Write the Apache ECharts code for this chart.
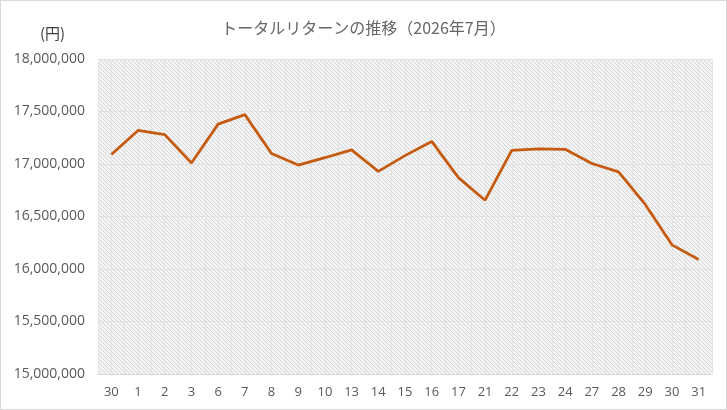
<!DOCTYPE html>
<html>
<head>
<meta charset="utf-8">
<script src="https://cdn.jsdelivr.net/npm/echarts@6/dist/echarts.min.js"></script>
<style>
  html, body { margin: 0; padding: 0; background: #fff; }
  #main { width: 725px; height: 408px; border: 1px solid #d9d9d9; }
</style>
</head>
<body>
<div id="main"></div>
<script>
// 日付（営業日）
var days = ['30', '1', '2', '3', '6', '7', '8', '9', '10', '13', '14', '15', '16', '17', '21', '22', '23', '24', '27', '28', '29', '30', '31'];
// トータルリターン（円）
var totalReturn = [17090000, 17320000, 17280000, 17010000, 17380000, 17470000, 17100000, 16990000, 17060000, 17135000, 16930000, 17080000, 17215000, 16870000, 16655000, 17130000, 17145000, 17140000, 17005000, 16925000, 16615000, 16230000, 16090000];
var yMin = 15000000, yMax = 18000000, yStep = 500000;

// 斜線の背景パターン
var pat = document.createElement('canvas');
pat.width = 4; pat.height = 4;
var ctx = pat.getContext('2d');
ctx.fillStyle = '#f4f4f4';
ctx.fillRect(0, 0, 4, 4);
ctx.fillStyle = '#d6d6d6';
for (var i = 0; i < 4; i++) ctx.fillRect(i, i, 1, 1);

var myChart = echarts.init(document.getElementById('main'));
var option = {
  animation: false,
  title: {
    text: 'トータルリターンの推移（2026年7月）',
    left: 'center',
    top: 14,
    textStyle: { color: '#666666', fontSize: 16, fontWeight: 'normal', fontFamily: 'Noto Sans CJK JP' }
  },
  graphic: [{
    type: 'text', left: 39, top: 25,
    style: { text: '(円)', fill: '#404040', font: '15px "Noto Sans CJK JP"' }
  }],
  grid: {
    left: 97, right: 14, top: 58, bottom: 35,
    show: true,
    borderWidth: 0,
    backgroundColor: { image: pat, repeat: 'repeat' }
  },
  xAxis: [{
    type: 'category',
    data: days,
    boundaryGap: true,
    axisLine: { lineStyle: { color: '#d9d9d9' } },
    axisTick: { show: false },
    axisLabel: { color: '#595959', fontSize: 13, margin: 12, interval: 0, fontFamily: 'Open Sans' },
    splitLine: { show: false }
  }, {
    type: 'value',
    min: 0, max: days.length * 2, interval: 1,
    show: true,
    axisLine: { show: false }, axisTick: { show: false }, axisLabel: { show: false },
    splitLine: { show: true, lineStyle: { color: '#e4e4e4', width: 1 } }
  }],
  yAxis: {
    type: 'value',
    min: yMin, max: yMax, interval: yStep,
    axisLine: { show: false },
    axisTick: { show: false },
    axisLabel: {
      color: '#595959', fontSize: 14, margin: 13, fontFamily: 'Open Sans',
      formatter: function (v) { return v.toLocaleString('en-US'); }
    },
    splitLine: { lineStyle: { color: '#e0e0e0', width: 1 } }
  },
  series: [{
    type: 'line',
    data: totalReturn,
    symbol: 'none',
    lineStyle: { color: '#c55a11', width: 2.75 },
    itemStyle: { color: '#c55a11' }
  }]
};
myChart.setOption(option);
window.onresize = myChart.resize;
</script>
</body>
</html>
